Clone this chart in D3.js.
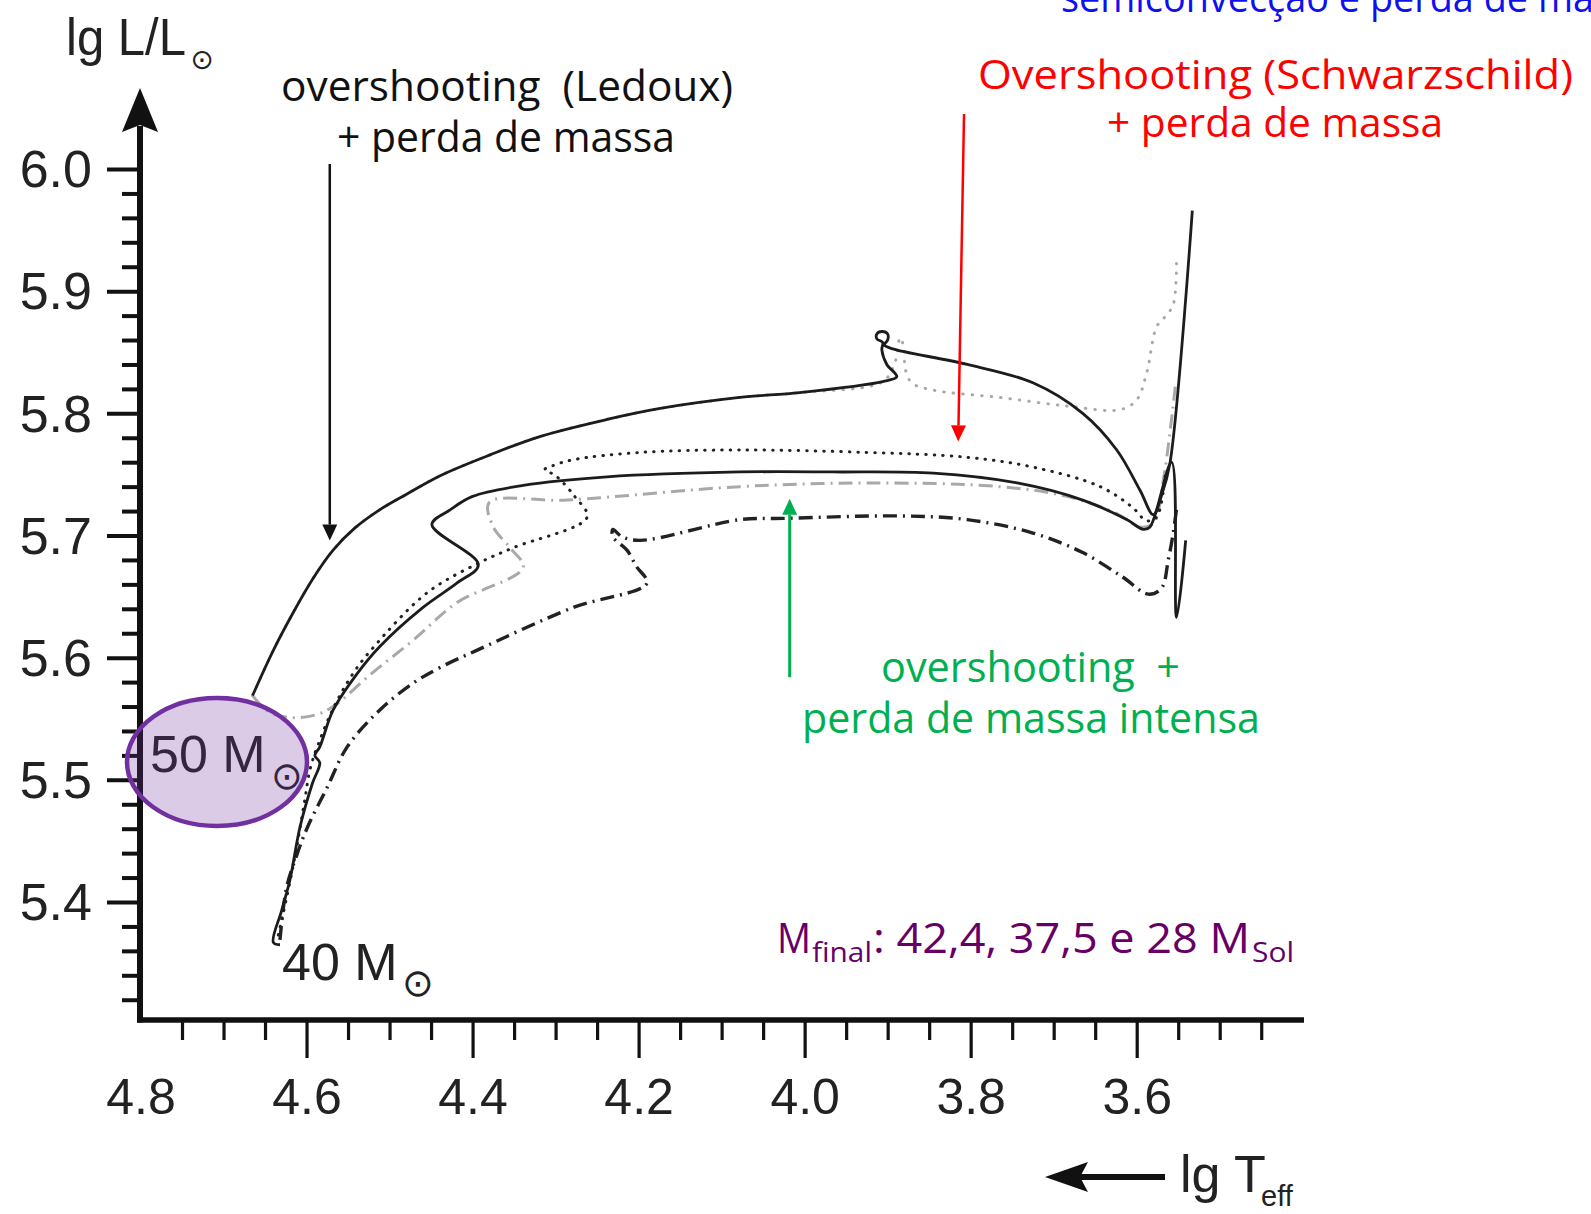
<!DOCTYPE html>
<html>
<head>
<meta charset="utf-8">
<script src="https://cdn.jsdelivr.net/npm/d3@7"></script>
<style>
  body { margin: 0; background: #fff; }
  svg { display: block; }
</style>
</head>
<body>
<script>
"use strict";

// ---- data: [lg Teff, lg L/Lsun] ----

// 50 Msun, overshooting (Ledoux) + mass loss (solid)
var track50Solid = [
    [4.665, 5.569], [4.640, 5.606], [4.616, 5.637], [4.592, 5.665], [4.568, 5.688],
    [4.542, 5.706], [4.512, 5.721], [4.479, 5.734], [4.439, 5.749], [4.379, 5.766],
    [4.319, 5.781], [4.238, 5.795], [4.174, 5.804], [4.078, 5.813], [4.006, 5.817],
    [3.906, 5.826], [3.889, 5.830], [3.901, 5.840], [3.907, 5.852], [3.906, 5.858],
    [3.913, 5.861], [3.913, 5.865], [3.907, 5.867], [3.900, 5.865], [3.900, 5.860],
    [3.904, 5.856], [3.895, 5.853], [3.804, 5.840], [3.725, 5.825], [3.665, 5.800],
    [3.624, 5.770], [3.596, 5.737], [3.580, 5.717], [3.570, 5.733], [3.560, 5.759],
    [3.533, 5.966]
];

// 50 Msun, second model (light grey dotted)
var track50GreyDotted = [
    [4.665, 5.569], [4.640, 5.606], [4.616, 5.637], [4.592, 5.665], [4.568, 5.688],
    [4.542, 5.706], [4.512, 5.721], [4.479, 5.734], [4.439, 5.749], [4.379, 5.766],
    [4.319, 5.781], [4.238, 5.795], [4.174, 5.804], [4.078, 5.813], [4.006, 5.817],
    [3.906, 5.826], [3.891, 5.842], [3.885, 5.862], [3.880, 5.852], [3.879, 5.837],
    [3.871, 5.825], [3.845, 5.819], [3.765, 5.813], [3.684, 5.806], [3.620, 5.803],
    [3.600, 5.811], [3.588, 5.833], [3.576, 5.871], [3.566, 5.879], [3.556, 5.889],
    [3.552, 5.928]
];

// 50 Msun, intense mass loss (light grey dash-dot)
var track50GreyDashDot = [
    [4.665, 5.569], [4.646, 5.556], [4.620, 5.551], [4.590, 5.553], [4.568, 5.560],
    [4.520, 5.588], [4.472, 5.614], [4.419, 5.645], [4.339, 5.674], [4.355, 5.690],
    [4.375, 5.707], [4.380, 5.727], [4.286, 5.729], [4.078, 5.740], [3.925, 5.743],
    [3.765, 5.740], [3.684, 5.732], [3.624, 5.718], [3.596, 5.707], [3.580, 5.710],
    [3.568, 5.745], [3.553, 5.825]
];

// 40 Msun (solid)
var track40Solid = [
    [4.632, 5.365], [4.640, 5.367], [4.630, 5.393], [4.620, 5.418], [4.608, 5.461],
    [4.593, 5.497], [4.584, 5.514], [4.590, 5.520], [4.584, 5.527], [4.568, 5.557],
    [4.539, 5.587], [4.512, 5.609], [4.460, 5.641], [4.419, 5.661], [4.393, 5.676],
    [4.449, 5.709], [4.427, 5.721], [4.400, 5.732], [4.339, 5.741], [4.238, 5.748],
    [4.078, 5.752], [3.966, 5.752], [3.845, 5.751], [3.744, 5.743], [3.665, 5.729],
    [3.612, 5.713], [3.592, 5.705], [3.584, 5.707], [3.558, 5.760], [3.552, 5.633],
    [3.541, 5.696]
];

// 40 Msun (black dotted)
var track40Dotted = [
    [4.634, 5.373], [4.628, 5.391], [4.614, 5.437], [4.602, 5.484], [4.596, 5.508],
    [4.586, 5.529], [4.566, 5.561], [4.544, 5.587], [4.520, 5.608], [4.455, 5.653],
    [4.391, 5.678], [4.351, 5.690], [4.262, 5.715], [4.277, 5.732], [4.300, 5.749],
    [4.313, 5.754], [4.304, 5.757], [4.279, 5.762], [4.198, 5.768], [4.078, 5.770],
    [3.925, 5.768], [3.804, 5.764], [3.725, 5.756], [3.644, 5.740], [3.605, 5.723],
    [3.588, 5.712], [3.576, 5.715], [3.565, 5.754]
];

// 40 Msun (black dash-dot)
var track40DashDot = [
    [4.632, 5.369], [4.624, 5.412], [4.612, 5.438], [4.599, 5.461], [4.575, 5.494],
    [4.551, 5.527], [4.512, 5.557], [4.472, 5.579], [4.439, 5.592], [4.395, 5.606],
    [4.279, 5.641], [4.190, 5.661], [4.203, 5.675], [4.214, 5.688], [4.231, 5.699],
    [4.231, 5.705], [4.220, 5.699], [4.198, 5.696], [4.078, 5.713], [4.026, 5.714],
    [3.885, 5.716], [3.804, 5.713], [3.725, 5.702], [3.665, 5.686], [3.617, 5.666],
    [3.586, 5.652], [3.570, 5.657], [3.562, 5.680], [3.556, 5.702], [3.552, 5.722]
];

// tick labels
var xMajorTicks = [4.8, 4.6, 4.4, 4.2, 4.0, 3.8, 3.6];
var yMajorTicks = [5.4, 5.5, 5.6, 5.7, 5.8, 5.9, 6.0];

// ---- layout ----
var WIDTH = 1591, HEIGHT = 1214;
var AXIS_X = 140, AXIS_Y = 1020;
var NUM_FONT = "'Liberation Sans', Arial, Helvetica, sans-serif";
var NOTE_FONT = "'Open Sans', 'Noto Sans', sans-serif";
var SUN_FONT = "'DejaVu Sans', sans-serif";

var svg = d3.select("body").append("svg")
            .attr("width", WIDTH)
            .attr("height", HEIGHT);

svg.append("rect").attr("width", WIDTH).attr("height", HEIGHT).attr("fill", "#fff");

var x = d3.scaleLinear().domain([4.8, 3.6]).range([140.5, 1136.7]);
var y = d3.scaleLinear().domain([5.4, 6.0]).range([902, 169]);

// minor ticks: every 0.05 in lg Teff, every 0.02 in lg L
var xMinorTicks = d3.range(475, 344, -5)
                    .filter(function(v) { return v % 20 != 0; })
                    .map(function(v) { return v / 100; });
var yMinorTicks = d3.range(532, 600, 2)
                    .filter(function(v) { return v % 10 != 0; })
                    .map(function(v) { return v / 100; });

// x axis ticks (hanging below the axis)
var gx = svg.append("g").attr("transform", "translate(0," + AXIS_Y + ")");
gx.append("g").call(d3.axisBottom(x).tickValues(xMinorTicks).tickSize(20).tickFormat(""));
gx.append("g").call(d3.axisBottom(x).tickValues(xMajorTicks.slice(1)).tickSize(38).tickFormat(""));
gx.append("g").attr("class", "labels")
  .call(d3.axisBottom(x).tickValues(xMajorTicks).tickSize(0).tickFormat(d3.format(".1f")));
gx.selectAll(".domain").remove();
gx.selectAll(".tick line").attr("stroke", "#111").attr("stroke-width", 3.2);
gx.selectAll(".labels .tick text")
  .attr("y", 94).attr("dy", null)
  .attr("fill", "#222")
  .style("font-family", NUM_FONT).style("font-size", "50px");

// y axis ticks
var gy = svg.append("g").attr("transform", "translate(" + AXIS_X + ",0)");
gy.append("g").call(d3.axisLeft(y).tickValues(yMinorTicks).tickSize(18).tickFormat(""));
gy.append("g").attr("class", "labels")
  .call(d3.axisLeft(y).tickValues(yMajorTicks).tickSize(33).tickPadding(15).tickFormat(d3.format(".1f")));
gy.selectAll(".domain").remove();
gy.selectAll(".tick line").attr("stroke", "#111").attr("stroke-width", 4);
gy.selectAll(".labels .tick text")
  .attr("dy", "0.34em")
  .attr("fill", "#222")
  .style("font-family", NUM_FONT).style("font-size", "52px");

// axis lines + arrow on the luminosity axis
svg.append("line")
   .attr("x1", AXIS_X).attr("y1", AXIS_Y + 2.5).attr("x2", AXIS_X).attr("y2", 126)
   .attr("stroke", "#111").attr("stroke-width", 6);
svg.append("line")
   .attr("x1", AXIS_X - 3).attr("y1", AXIS_Y).attr("x2", 1304).attr("y2", AXIS_Y)
   .attr("stroke", "#111").attr("stroke-width", 5.5);
svg.append("polygon")
   .attr("points", "140,88 158,132 140,125 122,132")
   .attr("fill", "#111");

// axis titles
svg.append("text").attr("x", 66).attr("y", 55).attr("textLength", 120)
   .attr("lengthAdjust", "spacingAndGlyphs")
   .style("font-family", NUM_FONT).style("font-size", "52px").attr("fill", "#222")
   .text("lg L/L");
svg.append("text").attr("x", 202).attr("y", 59).attr("text-anchor", "middle")
   .attr("dominant-baseline", "central")
   .style("font-family", SUN_FONT).style("font-size", "28px").attr("fill", "#222")
   .text("⊙");

svg.append("line").attr("x1", 1080).attr("y1", 1177).attr("x2", 1165).attr("y2", 1177)
   .attr("stroke", "#111").attr("stroke-width", 6);
svg.append("polygon").attr("points", "1045,1177 1088,1162 1080,1177 1088,1192").attr("fill", "#111");
svg.append("text").attr("x", 1180).attr("y", 1192)
   .style("font-family", NUM_FONT).style("font-size", "52px").attr("fill", "#222")
   .text("lg T");
svg.append("text").attr("x", 1261).attr("y", 1206)
   .style("font-family", NUM_FONT).style("font-size", "29px").attr("fill", "#222")
   .text("eff");

// ---- tracks ----
var line = d3.line()
             .x(function(d) { return x(d[0]); })
             .y(function(d) { return y(d[1]); })
             .curve(d3.curveCatmullRom.alpha(0.5));

var tracks = [
    { data: track50GreyDotted,  color: "#a9a9a9", width: 3,   dash: "0.5 9",    cap: "round" },
    { data: track50GreyDashDot, color: "#a9a9a9", width: 3,   dash: "14 6 2 6", cap: "butt" },
    { data: track40Dotted,      color: "#222",    width: 3,   dash: "0.5 8",    cap: "round" },
    { data: track40DashDot,     color: "#222",    width: 3.4, dash: "14 6 2 6", cap: "butt" },
    { data: track40Solid,       color: "#1c1c1c", width: 2.8, dash: null,       cap: "butt" },
    { data: track50Solid,       color: "#1c1c1c", width: 2.8, dash: null,       cap: "butt" }
];

svg.append("g").attr("class", "tracks")
   .selectAll("path")
   .data(tracks)
   .enter()
   .append("path")
   .attr("d", function(d) { return line(d.data); })
   .attr("fill", "none")
   .attr("stroke", function(d) { return d.color; })
   .attr("stroke-width", function(d) { return d.width; })
   .attr("stroke-dasharray", function(d) { return d.dash; })
   .attr("stroke-linecap", function(d) { return d.cap; })
   .attr("stroke-linejoin", "round");

// ---- mass labels ----
svg.append("text").attr("x", 150).attr("y", 772)
   .style("font-family", NUM_FONT).style("font-size", "52px").attr("fill", "#222")
   .text("50 M");
svg.append("text").attr("x", 287).attr("y", 776).attr("text-anchor", "middle")
   .attr("dominant-baseline", "central")
   .style("font-family", SUN_FONT).style("font-size", "38px").attr("fill", "#222")
   .text("⊙");
svg.append("text").attr("x", 282).attr("y", 980)
   .style("font-family", NUM_FONT).style("font-size", "52px").attr("fill", "#222")
   .text("40 M");
svg.append("text").attr("x", 418).attr("y", 983).attr("text-anchor", "middle")
   .attr("dominant-baseline", "central")
   .style("font-family", SUN_FONT).style("font-size", "38px").attr("fill", "#222")
   .text("⊙");

svg.append("ellipse")
   .attr("cx", 217).attr("cy", 762).attr("rx", 90).attr("ry", 64)
   .attr("fill", "#7030a0").attr("fill-opacity", 0.25)
   .attr("stroke", "#7030a0").attr("stroke-width", 4.5);

// ---- annotations ----
function note(txt, px, py, len, color, size)
{
    return svg.append("text")
              .attr("x", px).attr("y", py)
              .attr("textLength", len).attr("lengthAdjust", "spacingAndGlyphs")
              .style("font-family", NOTE_FONT).style("font-size", (size || 42) + "px")
              .style("white-space", "pre")
              .attr("fill", color)
              .text(txt);
}

function arrow(t, l1, l2, t2, color, width)
{
    var x1 = x(t), y1 = y(l1), x2 = x(t2), y2 = y(l2);
    var ang = Math.atan2(y2 - y1, x2 - x1);
    var len = 16, half = 7.5;
    var bx = x2 - len * Math.cos(ang), by = y2 - len * Math.sin(ang);
    svg.append("line")
       .attr("x1", x1).attr("y1", y1).attr("x2", bx).attr("y2", by)
       .attr("stroke", color).attr("stroke-width", width);
    svg.append("polygon")
       .attr("points", [
            [x2, y2],
            [bx + half * Math.sin(ang), by - half * Math.cos(ang)],
            [bx - half * Math.sin(ang), by + half * Math.cos(ang)]
       ].map(function(p) { return p.join(","); }).join(" "))
       .attr("fill", color);
}

// black: Ledoux
note("overshooting  (Ledoux)", 281, 101, 452, "#111");
note("+ perda de massa", 337, 152, 338, "#111");
arrow(4.572, 6.004, 5.696, 4.572, "#111", 2.5);

// red: Schwarzschild
note("Overshooting (Schwarzschild)", 978, 89, 595, "#ff0000", 41);
note("+ perda de massa", 1107, 137, 336, "#ff0000", 41);
arrow(3.808, 6.045, 5.777, 3.815, "#ff0000", 2.5);

// green: intense mass loss
note("overshooting  +", 881, 682, 299, "#00b050");
note("perda de massa intensa", 802, 733, 458, "#00b050");
arrow(4.018, 5.584, 5.730, 4.018, "#00b050", 3);

// blue, cut at the top edge
note("semiconvecção e perda de massa", 1061, 12, 590, "#1010ee", 40);

// purple: final masses
note("M", 777, 953, 34, "#660066");
note("final", 812, 962, 60, "#660066", 28);
note(": 42,4, 37,5 e 28 M", 873, 953, 377, "#660066");
note("Sol", 1252, 962, 42, "#660066", 28);
</script>
</body>
</html>
